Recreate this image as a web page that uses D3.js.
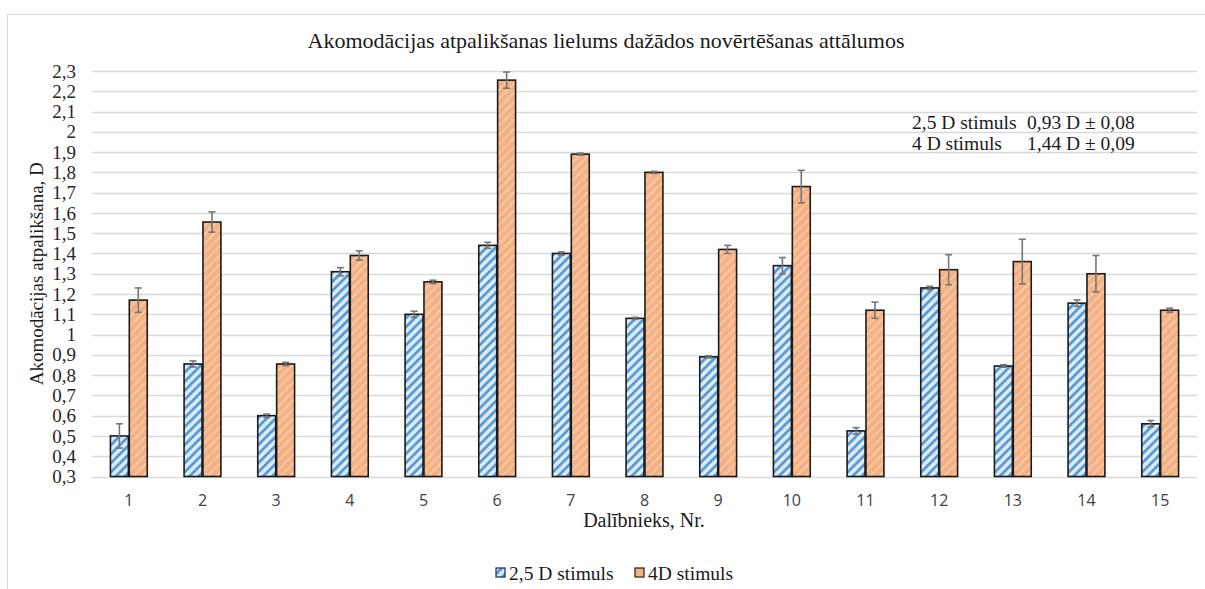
<!DOCTYPE html>
<html>
<head>
<meta charset="utf-8">
<script src="https://cdn.jsdelivr.net/npm/d3@7"></script>
<style>
  html, body { margin: 0; padding: 0; background: #fff; }
  svg { display: block; }
  .serif { font-family: "Liberation Serif", "Times New Roman", serif; }
  .sans { font-family: "Open Sans", "Liberation Sans", sans-serif; }
</style>
</head>
<body>
<svg id="chart" width="1205" height="589"></svg>
<script>
// Participants (x categories)
const participants = ["1","2","3","4","5","6","7","8","9","10","11","12","13","14","15"];
const seriesNames = ["2,5 D stimuls", "4D stimuls"];

// Accommodation lag, D
const lag25 = [0.50, 0.855, 0.60, 1.31, 1.10, 1.44, 1.40, 1.08, 0.89, 1.34, 0.525, 1.23, 0.845, 1.155, 0.56];
const lag4  = [1.17, 1.555, 0.855, 1.39, 1.26, 2.255, 1.89, 1.80, 1.42, 1.73, 1.12, 1.32, 1.36, 1.30, 1.12];

// Error bar half-widths, D
const err25 = [0.06, 0.015, 0.008, 0.02, 0.015, 0.015, 0.008, 0.005, 0.005, 0.04, 0.016, 0.008, 0.006, 0.016, 0.016];
const err4  = [0.06, 0.05, 0.008, 0.023, 0.008, 0.04, 0.005, 0.005, 0.02, 0.08, 0.04, 0.074, 0.11, 0.09, 0.01];

// Y axis ticks
const yTicks = [0.3,0.4,0.5,0.6,0.7,0.8,0.9,1,1.1,1.2,1.3,1.4,1.5,1.6,1.7,1.8,1.9,2,2.1,2.2,2.3];

// Summary lines
const summaryLabels = ["2,5 D stimuls", "4 D stimuls"];
const summaryValues = ["0,93 D ± 0,08", "1,44 D ± 0,09"];

const svg = d3.select("#chart");

// chart area frame
svg.append("rect")
  .attr("x", 7.5).attr("y", 14.5)
  .attr("width", 1210).attr("height", 600)
  .attr("fill", "#fff").attr("stroke", "#d9d9d9").attr("stroke-width", 1);

// hatch patterns
const defs = svg.append("defs");
function hatch(id, bg, fg, w) {
  const p = defs.append("pattern")
    .attr("id", id)
    .attr("patternUnits", "userSpaceOnUse")
    .attr("width", 6.4).attr("height", 6.4)
    .attr("patternTransform", "rotate(45)");
  p.append("rect").attr("width", 6.4).attr("height", 6.4).attr("fill", bg);
  p.append("rect").attr("x", 0).attr("y", 0).attr("width", w).attr("height", 6.4).attr("fill", fg);
}
hatch("hatchBlue", "#ddebf7", "#5b9bd5", 2.8);
hatch("hatchOrange", "#f4b183", "#f8c8a6", 2.0);

const plot = { left: 92, right: 1197, top: 71, bottom: 476.5 };

const y = d3.scaleLinear().domain([0.3, 2.3]).range([plot.bottom, plot.top]);
const x0 = d3.scaleBand().domain(participants)
  .range([plot.left, plot.right]).paddingInner(0.5).paddingOuter(0.25);
const x1 = d3.scaleBand().domain(seriesNames)
  .range([0, x0.bandwidth()]).paddingInner(0.05);

// gridlines
svg.append("g")
  .selectAll("line").data(yTicks).join("line")
  .attr("x1", plot.left).attr("x2", plot.right)
  .attr("y1", d => Math.round(y(d)) + 0.5).attr("y2", d => Math.round(y(d)) + 0.5)
  .attr("stroke", "#d9d9d9").attr("stroke-width", 1.3);

// y axis labels
const yAxis = d3.axisLeft(y).tickValues(yTicks).tickSize(0).tickPadding(0)
  .tickFormat(d => d3.format(".1~f")(d).replace(".", ","));
const yg = svg.append("g").attr("transform", `translate(76,0)`).call(yAxis);
yg.select(".domain").remove();
yg.attr("font-family", null).attr("font-size", null);
yg.selectAll("text").attr("class", "serif").style("font-size", "19px").attr("fill", "#262626");

// x axis labels
const xAxis = d3.axisBottom(x0).tickSize(0).tickPadding(0);
const xg = svg.append("g").attr("transform", `translate(0,494.5)`).call(xAxis);
xg.select(".domain").remove();
xg.attr("font-family", null).attr("font-size", null);
xg.selectAll("text").attr("class", "sans").style("font-size", "16px").attr("fill", "#404040");

// bars
const rows = participants.map((p, i) => ({
  p,
  vals: [
    { s: seriesNames[0], v: lag25[i], e: err25[i], fill: "url(#hatchBlue)" },
    { s: seriesNames[1], v: lag4[i], e: err4[i], fill: "url(#hatchOrange)" }
  ]
}));

const groups = svg.append("g").selectAll("g").data(rows).join("g")
  .attr("transform", d => `translate(${x0(d.p)},0)`);

groups.selectAll("rect").data(d => d.vals).join("rect")
  .attr("x", d => x1(d.s))
  .attr("y", d => y(d.v))
  .attr("width", x1.bandwidth())
  .attr("height", d => y(0.3) - y(d.v))
  .attr("fill", d => d.fill)
  .attr("stroke", "#1a1a1a").attr("stroke-width", 1.6);

// error bars
const eb = groups.selectAll("g.err").data(d => d.vals).join("g").attr("class", "err")
  .attr("stroke", "#767676").attr("stroke-width", 1.6).attr("fill", "none");
const cx = d => x1(d.s) + x1.bandwidth() / 2;
eb.append("line")
  .attr("x1", cx).attr("x2", cx)
  .attr("y1", d => y(d.v + d.e)).attr("y2", d => y(d.v - d.e));
eb.append("line")
  .attr("x1", d => cx(d) - 3.5).attr("x2", d => cx(d) + 3.5)
  .attr("y1", d => y(d.v + d.e)).attr("y2", d => y(d.v + d.e));
eb.append("line")
  .attr("x1", d => cx(d) - 3.5).attr("x2", d => cx(d) + 3.5)
  .attr("y1", d => y(d.v - d.e)).attr("y2", d => y(d.v - d.e));

// title
svg.append("text")
  .attr("class", "serif")
  .attr("x", 606).attr("y", 48)
  .attr("text-anchor", "middle")
  .style("font-size", "22px").attr("fill", "#1a1a1a")
  .text("Akomodācijas atpalikšanas lielums dažādos novērtēšanas attālumos");

// axis titles
svg.append("text")
  .attr("class", "serif")
  .attr("transform", `translate(43,${(plot.top + plot.bottom) / 2}) rotate(-90)`)
  .attr("text-anchor", "middle")
  .style("font-size", "19px").attr("fill", "#1a1a1a")
  .text("Akomodācijas atpalikšana, D");

svg.append("text")
  .attr("class", "serif")
  .attr("x", 644).attr("y", 527)
  .attr("text-anchor", "middle")
  .style("font-size", "20px").attr("fill", "#1a1a1a")
  .text("Dalībnieks, Nr.");

// summary block
const summary = svg.append("g");
summaryLabels.forEach((lab, i) => {
  summary.append("text").attr("class", "serif").style("font-size", "19.5px").attr("fill", "#1a1a1a")
    .attr("x", 912).attr("y", 129 + i * 21).text(lab);
  summary.append("text").attr("class", "serif").style("font-size", "19.5px").attr("fill", "#1a1a1a")
    .attr("x", 1027).attr("y", 129 + i * 21).text(summaryValues[i]);
});

// legend
const legend = svg.append("g");
const legendItems = [
  { name: seriesNames[0], fill: "url(#hatchBlue)", stroke: "#1f3864", x: 496 },
  { name: seriesNames[1], fill: "#f4b183", stroke: "#3a2a1a", x: 635 }
];
legendItems.forEach(it => {
  legend.append("rect").attr("x", it.x).attr("y", 568).attr("width", 9).attr("height", 9)
    .attr("fill", it.fill).attr("stroke", it.stroke).attr("stroke-width", 1.3);
  legend.append("text").attr("class", "serif").attr("x", it.x + 13).attr("y", 580)
    .style("font-size", "19.5px").attr("fill", "#1a1a1a")
    .text(it.name);
});
</script>
</body>
</html>
